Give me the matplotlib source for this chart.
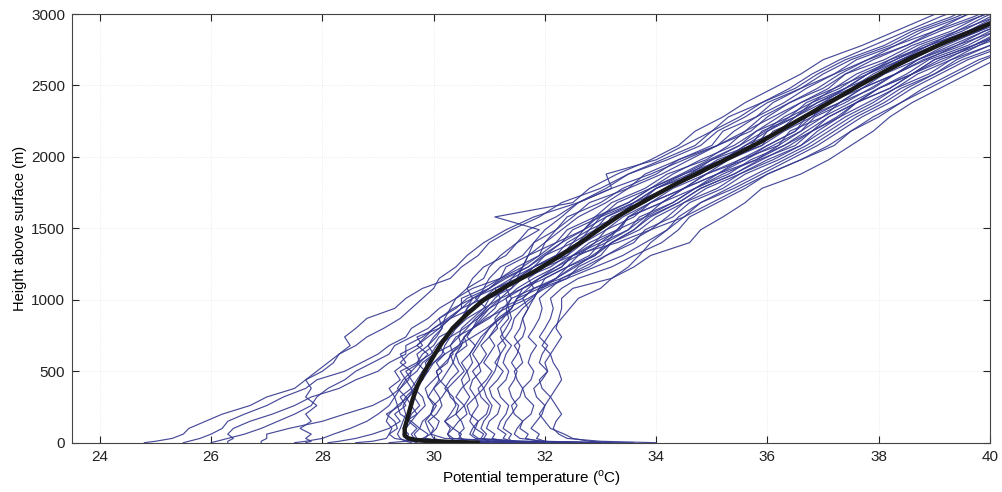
import matplotlib
matplotlib.use("Agg")
import matplotlib.pyplot as plt

plt.rcParams['font.family'] = ['Liberation Sans', 'DejaVu Sans']
plt.rcParams['mathtext.fontset'] = 'custom'
plt.rcParams['mathtext.rm'] = 'Liberation Sans'

# common height levels (m) of the soundings
heights = [0, 10, 30, 60, 100, 150, 200, 260, 320, 380, 440, 500, 560, 620, 680, 740, 800, 870, 940,
           1010, 1080, 1150, 1230, 1310, 1400, 1490, 1580, 1680, 1780, 1880, 1980, 2080, 2180, 2280,
           2380, 2480, 2580, 2680, 2780, 2880, 2980, 3080]

# potential temperature soundings (degC) at the levels above
prof_c1 = [24.8, 25.0, 25.3, 25.5, 25.6, 25.9, 26.2, 26.7, 27.0, 27.5, 27.7, 28.0, 28.2, 28.3, 28.5, 28.4, 28.6, 28.8, 29.3,
           29.5, 29.8, 30.3, 30.5, 30.8, 31.0, 31.4, 31.9, 32.3, 33.0, 33.5, 34.2, 34.8, 35.1, 35.6, 36.0, 36.6, 37.0, 37.5, 38.2, 38.7, 39.4, 40.0]
prof_c2 = [25.5, 25.6, 25.8, 26.0, 26.2, 26.3, 26.6, 27.0, 27.3, 27.7, 27.9, 28.4, 28.7, 29.0, 29.2, 29.5, 29.6, 29.9, 30.1,
           30.4, 30.7, 31.2, 31.5, 31.9, 32.2, 32.7, 32.9, 33.5, 33.9, 34.5, 35.0, 35.5, 35.8, 36.4, 36.7, 37.3, 37.7, 38.3, 38.8, 39.5, 40.0, 40.6]
prof_c3 = [26.3, 26.3, 26.4, 26.3, 26.4, 26.7, 27.1, 27.5, 27.8, 28.3, 28.6, 29.0, 29.2, 29.5, 29.5, 29.8, 30.0, 30.3, 30.5,
           30.9, 31.1, 31.5, 31.8, 32.2, 32.6, 32.8, 33.3, 33.6, 34.2, 34.6, 35.2, 35.6, 36.2, 36.5, 37.0, 37.4, 38.0, 38.4, 39.1, 39.6, 40.3, 40.8]
prof_c4 = [26.9, 26.9, 27.0, 27.0, 27.4, 28.0, 28.4, 28.9, 29.2, 29.4, 29.5, 29.4, 29.7, 29.8, 30.0, 30.1, 30.4, 30.6, 30.9,
           31.2, 31.6, 31.9, 32.3, 32.5, 33.0, 33.3, 33.5, 34.1, 34.5, 35.1, 35.5, 36.2, 36.4, 37.0, 37.3, 37.9, 38.3, 38.8, 39.5, 40.0, 40.6, 41.2]
prof_c5 = [27.7, 27.8, 27.7, 27.8, 27.6, 27.8, 27.7, 27.9, 27.7, 27.8, 27.7, 27.9, 28.1, 28.3, 28.6, 28.8, 29.1, 29.4, 29.6,
           29.8, 30.0, 30.1, 30.4, 30.6, 30.9, 31.3, 31.8, 32.6, 33.2, 33.9, 34.5, 35.1, 35.7, 36.0, 36.4, 37.0, 37.4, 37.9, 38.5, 39.1, 39.8, 40.4]
prof_c6 = [27.5, 27.7, 28.0, 28.2, 28.5, 28.8, 29.0, 29.2, 29.3, 29.2, 29.4, 29.3, 29.5, 29.4, 29.7, 29.9, 30.1, 30.3, 30.7,
           31.0, 31.4, 31.6, 32.1, 32.4, 32.7, 33.1, 33.4, 33.9, 34.3, 34.9, 35.3, 35.9, 36.3, 36.8, 37.1, 37.7, 38.1, 38.7, 39.2, 39.8, 40.5, 41.0]
prof_c7 = [28.1, 28.3, 28.6, 28.9, 29.2, 29.4, 29.3, 29.5, 29.4, 29.6, 29.5, 29.7, 29.8, 30.0, 30.3, 30.4, 30.7, 31.0, 31.2,
           31.6, 31.8, 32.2, 32.5, 32.9, 33.1, 33.5, 33.8, 34.3, 34.7, 35.2, 35.8, 36.3, 36.8, 37.1, 37.6, 38.0, 38.6, 39.0, 39.7, 40.3, 40.8, 41.4]
prof_c8 = [26.0, 26.1, 26.3, 26.6, 26.9, 27.2, 27.5, 27.8, 27.9, 28.1, 28.4, 28.6, 28.9, 29.2, 29.3, 29.6, 29.9, 30.1, 30.4,
           30.6, 31.0, 31.3, 31.7, 32.0, 32.5, 32.7, 33.1, 33.6, 34.0, 34.5, 35.2, 35.6, 36.0, 36.4, 36.9, 37.4, 37.8, 38.3, 38.9, 39.6, 40.2, 40.7]
prof_d1 = [30.0, 29.6, 29.3, 29.2, 29.35, 29.3, 29.15, 29.4, 29.5, 29.35, 29.45, 29.6, 29.4, 29.55, 29.8, 29.7, 30.1, 30.3, 30.5,
           30.5, 30.9, 31.0, 31.2, 31.6, 31.8, 32.2, 32.4, 33.0, 33.4, 34.0, 34.4, 35.1, 35.4, 35.8, 36.3, 36.7, 37.2, 37.8, 38.3, 39.0, 39.5, 40.1]
prof_d2 = [31.0, 30.0, 29.5, 29.45, 29.5, 29.6, 29.4, 29.35, 29.55, 29.7, 29.6, 29.5, 29.75, 29.9, 29.7, 29.85, 30.0, 30.25, 30.5,
           30.7, 31.0, 31.2, 31.6, 31.7, 32.2, 32.4, 32.9, 33.2, 33.8, 34.2, 34.9, 35.3, 35.6, 36.1, 36.6, 37.1, 37.4, 38.1, 38.6, 39.3, 39.8, 40.5]
prof_d3 = [29.7, 29.6, 29.5, 29.55, 29.45, 29.5, 29.7, 29.6, 29.5, 29.65, 29.8, 29.85, 29.7, 29.95, 30.05, 30.2, 30.35, 30.5, 30.6,
           30.8, 30.9, 31.2, 31.3, 31.7, 31.8, 32.0, 32.3, 32.6, 33.2, 33.1, 34.0, 34.5, 35.0, 35.3, 35.9, 36.4, 36.8, 37.3, 37.9, 38.5, 39.1, 39.8]
prof_d4 = [32.0, 30.4, 29.7, 29.65, 29.75, 29.6, 29.7, 29.85, 29.8, 29.65, 29.75, 29.9, 29.85, 30.0, 29.9, 30.05, 30.15, 30.1, 30.35,
           30.7, 31.1, 31.6, 31.9, 32.4, 32.6, 33.0, 33.2, 33.8, 34.2, 34.8, 35.2, 35.9, 36.1, 36.7, 37.0, 37.6, 38.0, 38.6, 39.1, 39.8, 40.3, 40.9]
prof_d5 = [31.5, 30.2, 29.85, 29.9, 29.75, 29.8, 29.95, 30.05, 29.9, 29.85, 30.0, 30.15, 30.05, 30.2, 30.1, 30.3, 30.55, 30.8, 31.0,
           31.3, 31.5, 31.8, 32.2, 32.5, 32.8, 33.3, 33.5, 33.9, 34.5, 34.9, 35.5, 36.0, 36.5, 36.8, 37.3, 37.7, 38.3, 38.7, 39.3, 39.9, 40.6, 41.1]
prof_d6 = [30.5, 30.2, 30.0, 29.95, 30.05, 30.1, 29.95, 30.0, 30.15, 30.25, 30.1, 30.05, 30.2, 30.35, 30.3, 30.45, 30.5, 30.7, 30.9,
           31.0, 31.3, 31.4, 31.8, 32.0, 32.3, 32.5, 33.0, 33.3, 33.9, 34.3, 34.8, 35.4, 35.8, 36.2, 36.6, 37.2, 37.6, 38.2, 38.7, 39.4, 39.9, 40.5]
prof_d7 = [32.5, 31.0, 30.35, 30.25, 30.3, 30.2, 30.4, 30.45, 30.3, 30.25, 30.4, 30.55, 30.45, 30.4, 30.6, 30.55, 30.7, 30.95, 31.3,
           31.7, 32.0, 32.4, 32.6, 33.0, 33.2, 33.7, 34.0, 34.5, 34.9, 35.5, 36.0, 36.6, 36.9, 37.3, 37.8, 38.3, 38.7, 39.3, 39.8, 40.5, 41.0, 41.6]
prof_d8 = [31.0, 30.6, 30.45, 30.5, 30.35, 30.45, 30.6, 30.55, 30.4, 30.5, 30.65, 30.6, 30.5, 30.65, 30.75, 30.6, 30.7, 30.8, 30.95,
           31.1, 31.3, 31.6, 31.8, 32.3, 32.5, 32.9, 33.1, 33.7, 34.0, 34.7, 35.1, 35.8, 36.0, 36.5, 36.9, 37.5, 37.9, 38.4, 39.0, 39.7, 40.2, 40.8]
prof_d9 = [33.0, 31.5, 30.75, 30.65, 30.7, 30.8, 30.65, 30.6, 30.75, 30.9, 30.8, 30.7, 30.85, 30.95, 30.85, 31.0, 31.1, 31.25, 31.4,
           31.5, 31.9, 32.0, 32.4, 32.6, 33.1, 33.3, 33.8, 34.1, 34.7, 35.1, 35.8, 36.2, 36.6, 37.0, 37.5, 38.0, 38.5, 38.9, 39.6, 40.1, 40.8, 41.3]
prof_d10 = [31.5, 31.0, 30.85, 30.9, 30.75, 30.8, 30.95, 31.0, 30.85, 30.8, 30.95, 31.05, 30.9, 31.0, 31.1, 31.0, 31.15, 31.1, 31.25,
            31.4, 31.8, 32.3, 32.8, 33.1, 33.6, 33.8, 34.3, 34.6, 35.2, 35.6, 36.2, 36.7, 37.1, 37.5, 38.0, 38.4, 39.0, 39.4, 40.0, 40.6, 41.3, 41.8]
prof_d11 = [32.0, 31.3, 31.05, 31.1, 30.95, 31.0, 31.15, 31.2, 31.05, 31.0, 31.15, 31.25, 31.1, 31.2, 31.3, 31.2, 31.3, 31.4, 31.35,
            31.3, 31.6, 32.0, 32.4, 32.9, 33.2, 33.6, 33.9, 34.4, 34.8, 35.4, 35.9, 36.4, 36.8, 37.3, 37.6, 38.2, 38.6, 39.2, 39.7, 40.4, 40.9, 41.5]
prof_d12 = [31.8, 31.4, 31.25, 31.3, 31.15, 31.2, 31.3, 31.35, 31.2, 31.15, 31.3, 31.35, 31.25, 31.3, 31.4, 31.25, 31.2, 31.35, 31.3,
            31.4, 31.3, 31.5, 31.6, 31.9, 32.0, 32.3, 32.6, 33.1, 33.5, 34.1, 34.6, 35.1, 35.6, 35.9, 36.4, 36.9, 37.3, 37.8, 38.5, 39.0, 39.7, 40.3]
prof_d13 = [33.0, 32.0, 31.55, 31.45, 31.5, 31.6, 31.45, 31.4, 31.55, 31.6, 31.5, 31.45, 31.6, 31.55, 31.45, 31.6, 31.65, 31.6, 31.7,
            31.8, 31.9, 32.4, 32.9, 33.4, 33.8, 34.2, 34.5, 34.8, 35.4, 35.9, 36.4, 36.9, 37.3, 37.7, 38.2, 38.6, 39.1, 39.6, 40.3, 40.8, 41.5, 42.0]
prof_d14 = [32.5, 31.9, 31.65, 31.7, 31.55, 31.6, 31.75, 31.8, 31.65, 31.6, 31.75, 31.8, 31.7, 31.75, 31.85, 31.7, 31.8, 31.9, 31.95,
            31.9, 32.1, 32.3, 32.7, 33.1, 33.5, 33.9, 34.2, 34.5, 35.1, 35.5, 36.1, 36.6, 37.0, 37.4, 37.9, 38.3, 38.9, 39.3, 40.0, 40.5, 41.2, 41.7]
prof_d15 = [32.3, 32.0, 31.85, 31.9, 31.75, 31.85, 31.95, 32.0, 31.85, 31.8, 31.95, 32.05, 31.9, 31.95, 32.05, 31.9, 32.0, 32.1, 32.15,
            32.1, 32.3, 32.6, 33.2, 33.6, 34.1, 34.4, 34.6, 35.1, 35.6, 36.0, 36.6, 37.2, 37.5, 37.9, 38.4, 38.8, 39.3, 39.8, 40.5, 41.0, 41.7, 42.2]
prof_d16 = [34.0, 33.0, 32.4, 32.25, 32.15, 32.2, 32.3, 32.2, 32.1, 32.2, 32.3, 32.25, 32.15, 32.1, 32.2, 32.3, 32.2, 32.25, 32.3,
            32.3, 32.5, 33.2, 33.6, 33.9, 34.6, 34.8, 35.2, 35.6, 35.9, 36.6, 37.1, 37.5, 37.9, 38.2, 38.6, 39.1, 39.6, 40.1, 40.6, 41.2, 41.8, 42.4]
prof_d17 = [33.2, 32.8, 32.5, 32.35, 32.1, 32.0, 31.9, 32.0, 32.1, 31.95, 31.9, 32.05, 32.0, 32.1, 31.95, 32.05, 32.15, 32.3, 32.45,
            32.6, 33.0, 33.2, 33.5, 33.7, 33.9, 34.2, 34.4, 34.8, 35.3, 35.8, 36.3, 36.8, 37.2, 37.6, 38.1, 38.5, 39.0, 39.5, 40.2, 40.8, 41.4, 41.9]
prof_d18 = [29.2, 29.5, 29.8, 29.95, 30.0, 29.9, 30.05, 30.15, 30.1, 30.0, 30.15, 30.25, 30.35, 30.3, 30.5, 30.55, 30.7, 30.85, 31.0,
            31.2, 31.1, 31.4, 31.6, 31.7, 32.0, 32.2, 32.5, 32.8, 33.5, 33.8, 34.4, 35.0, 35.2, 35.8, 36.1, 36.6, 37.2, 37.6, 38.3, 38.8, 39.5, 40.0]
prof_d19 = [28.6, 28.9, 29.15, 29.2, 29.25, 29.15, 29.2, 29.35, 29.3, 29.4, 29.55, 29.6, 29.75, 29.7, 29.9, 30.0, 30.15, 30.2, 30.3,
            30.4, 30.6, 30.7, 30.9, 31.3, 31.5, 31.9, 31.1, 32.5, 32.8, 33.3, 33.9, 34.4, 34.7, 35.2, 35.6, 36.1, 36.6, 37.0, 37.7, 38.3, 38.9, 39.5]
prof_d20 = [30.8, 30.6, 30.5, 30.45, 30.55, 30.5, 30.4, 30.55, 30.65, 30.55, 30.5, 30.6, 30.7, 30.65, 30.75, 30.85, 31.0, 31.15, 31.4,
            31.5, 31.7, 31.9, 32.3, 32.5, 32.9, 33.1, 33.6, 33.9, 34.5, 34.9, 35.6, 36.0, 36.5, 36.7, 37.3, 37.7, 38.3, 38.7, 39.4, 39.9, 40.6, 41.1]
prof_d21 = [33.6, 31.5, 30.2, 29.95, 29.9, 29.85, 29.95, 30.0, 29.9, 30.0, 30.1, 30.05, 30.25, 30.3, 30.45, 30.55, 30.7, 30.9, 31.1,
            31.2, 31.4, 31.5, 31.8, 32.2, 32.4, 32.8, 33.0, 33.6, 34.0, 34.6, 35.0, 35.7, 35.9, 36.5, 36.8, 37.4, 37.8, 38.4, 38.9, 39.6, 40.1, 40.8]
prof_d22 = [31.3, 31.0, 30.9, 30.95, 30.85, 30.9, 31.0, 31.05, 30.95, 30.9, 31.0, 31.1, 31.15, 31.2, 31.15, 31.3, 31.4, 31.45, 31.6,
            31.8, 31.9, 32.2, 32.4, 32.8, 33.0, 33.5, 33.7, 34.3, 34.7, 35.3, 35.7, 36.3, 36.7, 37.1, 37.6, 38.0, 38.6, 39.0, 39.7, 40.2, 40.9, 41.4]
prof_d23 = [29.6, 29.5, 29.4, 29.35, 29.4, 29.45, 29.5, 29.45, 29.55, 29.65, 29.8, 29.9, 30.0, 30.15, 30.2, 30.3, 30.4, 30.55, 30.6,
            30.7, 30.6, 30.9, 31.0, 31.2, 31.5, 31.7, 32.2, 32.6, 33.1, 33.5, 34.1, 34.7, 35.0, 35.5, 35.9, 36.5, 36.9, 37.4, 38.1, 38.6, 39.3, 39.8]
prof_d24 = [31.6, 31.4, 31.35, 31.4, 31.25, 31.3, 31.4, 31.5, 31.4, 31.35, 31.45, 31.5, 31.4, 31.5, 31.55, 31.45, 31.55, 31.6, 31.7,
            31.6, 31.8, 31.7, 32.0, 32.5, 33.3, 33.9, 34.5, 35.0, 35.5, 36.0, 36.6, 37.1, 37.5, 38.0, 38.4, 38.9, 39.4, 39.9, 40.5, 41.1, 41.7, 42.3]
prof_d25 = [30.6, 30.4, 30.3, 30.25, 30.35, 30.2, 30.3, 30.4, 30.35, 30.2, 30.3, 30.45, 30.35, 30.4, 30.5, 30.45, 30.6, 30.75, 30.95,
            30.75, 31.0, 31.25, 31.7, 31.95, 32.3, 32.7, 32.95, 33.5, 33.9, 34.45, 34.95, 35.5, 35.95, 36.3, 36.8, 37.2, 37.8, 38.2, 38.9, 39.4, 40.1, 40.6]
prof_d26 = [32.8, 31.6, 30.8, 30.7, 30.75, 30.65, 30.7, 30.8, 30.75, 30.65, 30.7, 30.85, 30.8, 30.7, 30.8, 30.9, 31.0, 31.2, 31.4,
            31.5, 31.6, 31.9, 32.2, 32.6, 32.9, 33.35, 33.5, 34.1, 34.5, 35.1, 35.6, 36.1, 36.6, 36.85, 37.4, 37.85, 38.3, 38.85, 39.4, 40.1, 40.6, 41.3]
prof_d27 = [31.8, 30.3, 29.65, 29.6, 29.7, 29.55, 29.6, 29.75, 29.65, 29.6, 29.7, 29.8, 30.0, 30.2, 30.45, 30.7, 30.95, 31.2, 31.5,
            31.75, 31.95, 32.2, 32.55, 32.85, 33.2, 33.6, 33.85, 34.4, 34.8, 35.4, 35.85, 36.5, 36.8, 37.25, 37.6, 38.2, 38.6, 39.1, 39.8, 40.3, 41.0, 41.5]

# mean profile (thick black line)
mean_heights = [0, 5, 10, 18, 30, 50, 100, 200, 300, 400, 500, 600, 700, 800, 900, 1000, 1100, 1200, 1300,
                1400, 1500, 1600, 1700, 1800, 1900, 2000, 2100, 2200, 2300, 2400, 2500, 2600, 2700, 2800,
                2900, 3000]
mean_temps = [30.8, 30.3, 30.0, 29.7, 29.55, 29.48, 29.48, 29.55, 29.62, 29.71, 29.84, 29.99, 30.15, 30.34,
              30.6, 30.9, 31.33, 31.82, 32.24, 32.64, 33.0, 33.38, 33.83, 34.3, 34.82, 35.35, 35.85, 36.3,
              36.75, 37.2, 37.65, 38.12, 38.62, 39.18, 39.8, 40.4]

x_ticks = [24, 26, 28, 30, 32, 34, 36, 38, 40]
y_ticks = [0, 500, 1000, 1500, 2000, 2500, 3000]

profiles = [prof_c1, prof_c2, prof_c3, prof_c4, prof_c5, prof_c6, prof_c7, prof_c8,
            prof_d1, prof_d2, prof_d3, prof_d4, prof_d5, prof_d6, prof_d7, prof_d8,
            prof_d9, prof_d10, prof_d11, prof_d12, prof_d13, prof_d14, prof_d15, prof_d16,
            prof_d17, prof_d18, prof_d19, prof_d20, prof_d21, prof_d22, prof_d23, prof_d24,
            prof_d25, prof_d26, prof_d27]

fig = plt.figure(figsize=(10.03, 4.92), dpi=100)
ax = fig.add_axes([0.0718, 0.1002, 0.9152, 0.8713])

for p in profiles:
    ax.plot(p, heights, color='#33378f', lw=0.85, alpha=0.9)
ax.plot(mean_temps, mean_heights, color='#1a1a1a', lw=3.2, solid_capstyle='round')

ax.set_xlim(23.5, 40)
ax.set_ylim(0, 3000)
ax.set_xticks(x_ticks)
ax.set_yticks(y_ticks)
ax.grid(True, linestyle=':', color='#e6e6e6', lw=0.6)
ax.tick_params(direction='in', top=True, right=True, length=5, labelsize=11, pad=5, colors='#222222')
for s in ax.spines.values():
    s.set_color('#444444')
    s.set_linewidth(0.8)
ax.set_xlabel(r'Potential temperature ($^{\mathrm{o}}$C)', fontsize=11, labelpad=3)
ax.set_ylabel('Height above surface (m)', fontsize=10.5, labelpad=3)

fig.savefig('out.png', dpi=100)
